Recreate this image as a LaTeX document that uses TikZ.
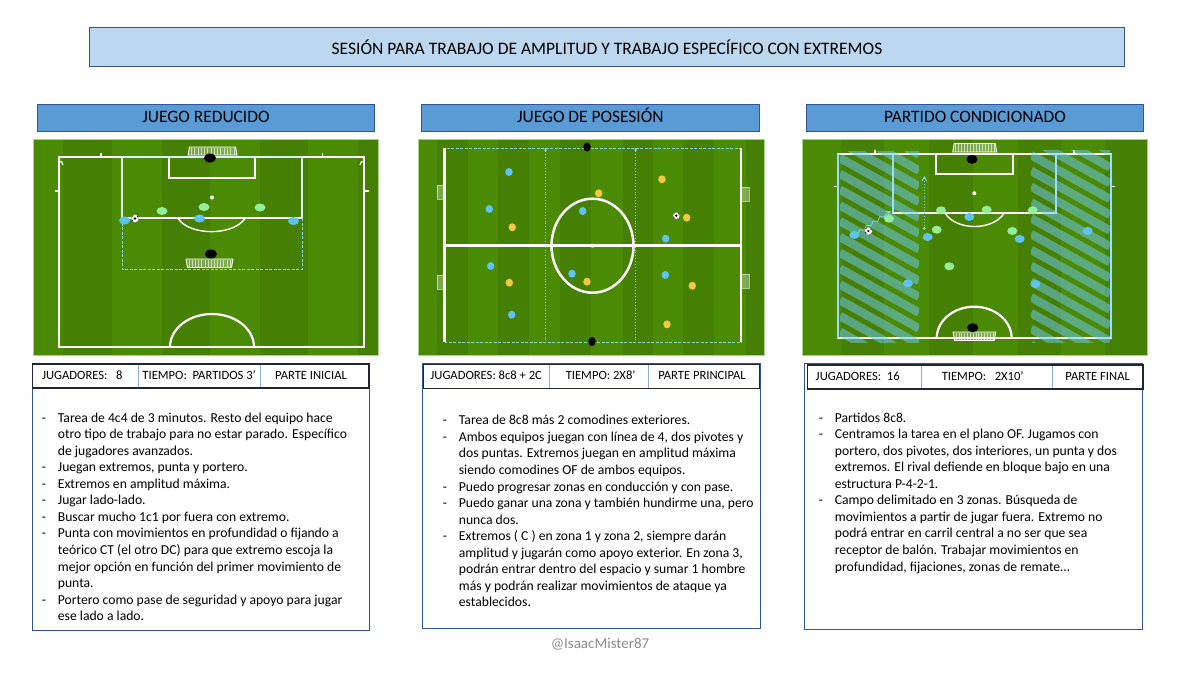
\documentclass[tikz,border=0pt]{standalone}
\usepackage{fontspec}
\setmainfont{Carlito}
\usetikzlibrary{positioning,arrows,shapes.geometric,decorations.pathmorphing}
\definecolor{barline}{HTML}{2F5597}
\definecolor{titlefill}{HTML}{BDD7EE}
\definecolor{headfill}{HTML}{5B9BD5}
\definecolor{rowline}{HTML}{1F2733}
\definecolor{celline}{HTML}{8FAADC}
\definecolor{grasslight}{HTML}{4B8A05}
\definecolor{grassdark}{HTML}{457F03}
\definecolor{grassedge}{HTML}{A9D18E}
\definecolor{zoneline}{HTML}{86D6DC}
\definecolor{hatchblue}{HTML}{6CC6E6}
\definecolor{teamblue}{HTML}{5CC3F2}
\definecolor{teamgreen}{HTML}{93EE9A}
\definecolor{teamyellow}{HTML}{F4C842}
\newcommand{\dashrow}{\makebox[16pt][l]{-}}
\newcommand{\controw}{\hspace*{16pt}}
% goal net: left, right, top, bottom, inset at top, inset at bottom
\newcommand{\goalnet}[6]{
	\fill[white,opacity=.3] ({#1+#5},#3) -- ({#2-#5},#3) -- ({#2-#6},#4) -- ({#1+#6},#4) -- cycle;
	\foreach \t in {1,...,14} \draw[white,opacity=.6,line width=.4pt] ({#1+(#2-#1)*\t/15},#3+.5) -- ({#1+(#2-#1)*\t/15},#4-.5);
	\draw[white,line width=.9pt] ({#1+#5},#3) -- ({#2-#5},#3) -- ({#2-#6},#4) -- ({#1+#6},#4) -- cycle;
}
\newcommand{\sidenet}[4]{
	\fill[white,opacity=.3] (#1,#3) rectangle (#2,#4);
	\draw[white,opacity=.55,line width=.6pt] (#1,#3) rectangle (#2,#4);
}
\tikzset{
	titlebar/.style={draw=barline,fill=titlefill,line width=.8pt,minimum width=1035.5pt,minimum height=39pt,inner sep=0pt,font=\fontsize{17.5}{20}\selectfont},
	headbar/.style={draw=barline,fill=headfill,line width=.8pt,minimum width=337.5pt,minimum height=27pt,inner sep=0pt,text height=12pt,text depth=3.5pt,font=\fontsize{17.4}{20}\selectfont},
	textbox/.style={draw=barline,fill=white,line width=.8pt,anchor=north west,inner sep=0pt},
	cellbox/.style={draw=celline,line width=.8pt,minimum height=24pt,inner sep=0pt,outer sep=0pt,anchor=west,text height=9pt,text depth=3pt,font=\fontsize{12.6}{15}\selectfont},
	rowbox/.style={draw=rowline,line width=1.3pt},
	bodytext/.style={anchor=north west,align=left,inner sep=0pt,font=\fontsize{13.65}{16.55}\selectfont},
	pitchline/.style={white,line width=2.2pt},
	zonedash/.style={zoneline,line width=.9pt,dash pattern=on 3pt off 1.5pt},
	player/.style={ellipse,inner sep=0pt,minimum width=#1,minimum height=8pt},
	bluep/.style={player=#1,fill=teamblue},
	greenp/.style={player=#1,fill=teamgreen},
	yellowp/.style={player=#1,fill=teamyellow},
	keeper/.style={ellipse,fill=black,inner sep=0pt,minimum width=#1,minimum height=9pt},
	spotdot/.style={circle,fill=white,inner sep=0pt,minimum size=4pt},
	ball/.style={circle,fill=white,draw=black!60,line width=.3pt,inner sep=0pt,minimum size=8pt,
		path picture={\fill[black] (path picture bounding box.center) circle (1.3pt);
			\fill[black] ([shift={(2.8pt,2pt)}]path picture bounding box.center) circle (1pt);
			\fill[black] ([shift={(-2.8pt,-2pt)}]path picture bounding box.center) circle (1pt);
			\fill[black] ([shift={(-2.4pt,2.6pt)}]path picture bounding box.center) circle (.8pt);}},
	hatchband/.style={hatchblue,opacity=.55,line width=8.5pt}
}

\begin{document}
\begin{tikzpicture}[x=1pt,y=-1pt]
	\useasboundingbox (0,0) rectangle (1200,675);
	\fill[white] (0,0) rectangle (1200,675);

	\node[titlebar] (title) at (607,47) {SESIÓN PARA TRABAJO DE AMPLITUD Y TRABAJO ESPECÍFICO CON EXTREMOS};
	\node[headbar] (head1) at (206,118.3) {JUEGO REDUCIDO};
	\node[headbar] (head2) at (590.3,118.3) {JUEGO DE POSESIÓN};
	\node[headbar] (head3) at (975,118.3) {PARTIDO CONDICIONADO};

	% first pitch
	\fill[grasslight] (33,139) rectangle (378.5,355);
	\foreach \bx/\bw in {63/49,162/48,260/48,358/20.5}
		\fill[grassdark] (\bx,139) rectangle ++(\bw,216);
	\draw[grassedge,line width=.6pt] (33,139) rectangle (378.5,355);
	\goalnet{188}{237}{147}{155}{1.5}{0}
	\goalnet{186}{233}{259}{267.5}{0}{1.5}
	\draw[pitchline] (59,157) rectangle (364,347);
	\draw[pitchline] (169,157) rectangle (255,178);
	\draw[pitchline] (122,218) -- (302,218);
	\draw[pitchline,line width=1.4pt] (178,218.5) .. controls (190,236) and (233,236) .. (245,218.5);
	\draw[pitchline] (170,347) arc[start angle=180,end angle=360,x radius=42,y radius=33];
	\draw[pitchline,line width=1.2pt] (59,161) arc[start angle=-90,end angle=0,radius=4] (364,161) arc[start angle=270,end angle=180,radius=4];
	\draw[pitchline,line width=1.4pt] (101,153) -- (101,157) (322.7,153) -- (322.7,157) (55,191) -- (59,191) (364,191) -- (369,191);
	\draw[white!70!zoneline,line width=2pt] (122,157) -- (302,157) (122,157) -- (122,218) (302,157) -- (302,218);
	\draw[zonedash] (122,218) -- (122,269) -- (302,269) -- (302,218);
	\node[spotdot] (spot1) at (212,197.5) {};
	\node[spotdot,minimum size=2.5pt] (mid1) at (212,347) {};
	\node[keeper=12pt] (keep1a) at (210,158) {};
	\node[keeper=12pt] (keep1b) at (211,254) {};
	\foreach \px/\py [count=\i] in {162/211,204/207,260/207.5}
		\node[greenp=11pt] (green1\i) at (\px,\py) {};
	\node[ball] (ball1) at (135,218.5) {};
	\foreach \px/\py [count=\i] in {124.5/220.5,199.5/218.5,293.5/221}
		\node[bluep=11pt] (blue1\i) at (\px,\py) {};

	% second pitch
	\fill[grasslight] (418.5,139) rectangle (764,355);
	\foreach \bx/\bw in {436.7/31,498.3/31,560/31,623.3/30,683.3/31,745.7/18.3}
		\fill[grassdark] (\bx,139) rectangle ++(\bw,216);
	\draw[grassedge,line width=.6pt] (418.5,139) rectangle (764,355);
	\sidenet{437}{444}{185}{199}
	\sidenet{437}{444}{275}{289}
	\sidenet{741}{749}{187}{201}
	\sidenet{741}{749}{274}{288}
	\draw[zonedash] (445,148) rectangle (741,342.5);
	\draw[zoneline,line width=.9pt,dotted] (545.7,148) -- (545.7,342.5) (635.7,148) -- (635.7,342.5);
	\fill[zoneline] (544.7,148) rectangle ++(2,3) (634.7,148) rectangle ++(2,3);
	\draw[pitchline,line width=2.5pt] (444.7,148) -- (444.7,342) (741,148) -- (741,342);
	\draw[pitchline,line width=2.5pt] (444.7,245.7) -- (741,245.7);
	\draw[pitchline,line width=2.5pt] (592.5,245.7) ellipse[x radius=41,y radius=47];
	\node[spotdot] (mid2) at (592.5,245.7) {};
	\node[keeper=7.5pt] (keep2a) at (587,147) {};
	\node[keeper=7.5pt] (keep2b) at (592,341.5) {};
	\foreach \px/\py [count=\i] in {509/172,489.3/209,490.7/266,511.7/314.7,582.7/211,572/273.7,665.7/238.7,665.3/275}
		\node[bluep=7.5pt] (blue2\i) at (\px,\py) {};
	\foreach \px/\py [count=\i] in {598.7/193.3,662/179.3,686.7/217.7,512.3/227.3,509.3/282.7,587/281.7,692.3/285.7,667/324.3}
		\node[yellowp=7.5pt] (yellow2\i) at (\px,\py) {};
	\node[ball,minimum size=7pt] (ball2) at (676.3,215.7) {};

	% third pitch
	\fill[grasslight] (802.7,139) rectangle (1147.7,355);
	\foreach \bx/\bw in {841/43.3,929.3/43.4,1017.7/43.3,1105/42.7}
		\fill[grassdark] (\bx,139) rectangle ++(\bw,216);
	\draw[grassedge,line width=.6pt] (802.7,139) rectangle (1147.7,355);
	\goalnet{952.7}{996.7}{143.5}{152}{1.5}{0}
	\goalnet{953}{995.7}{332}{340.5}{0}{1.5}
	\draw[pitchline] (892.7,154) rectangle (1055.7,212.7);
	\draw[pitchline] (837.7,154) rectangle (1111,338.3);
	\draw[pitchline] (936,154) rectangle (1013.3,174);
	\draw[pitchline,line width=1.4pt] (945,213) .. controls (956,231) and (993,231) .. (1004.3,213);
	\draw[pitchline] (936.7,338.3) arc[start angle=180,end angle=360,x radius=37.5,y radius=31.6];
	\draw[pitchline,line width=1.4pt] (875,150) -- (875,154) (1074,150) -- (1074,154) (834,186.7) -- (838,186.7) (1111,186.7) -- (1115,186.7);
	\begin{scope}
		\clip (840,151.7) rectangle (919,342.7);
		\foreach \k in {-5,...,12}
			\draw[hatchband] (840,{158+\k*15.8}) -- (919,{158+\k*15.8+44});
	\end{scope}
	\begin{scope}
		\clip (1031,150) rectangle (1110,342);
		\foreach \k in {-5,...,12}
			\draw[hatchband] (1031,{155+\k*15.8}) -- (1110,{155+\k*15.8+44});
	\end{scope}
	\draw[white!60!cyan,line width=1.6pt] (837.7,154) -- (837.7,338.3) (1111,154) -- (1111,338.3) (892.7,154) -- (892.7,212.7) (1055.7,154) -- (1055.7,212.7);
	\node[spotdot] (spot3) at (974.3,193.3) {};
	\node[keeper=11pt] (keep3a) at (972,159.3) {};
	\node[keeper=11pt] (keep3b) at (972.7,327.7) {};
	\coordinate (runa) at (924.3,228.3);
	\coordinate (runb) at (924.3,176);
	\coordinate (drivea) at (858.3,232.5);
	\coordinate (driveb) at (891,211);
	\draw[zoneline,line width=.9pt,dotted,->,>=angle 60] (runa) -- (runb);
	\fill[zoneline] (runa) circle (1.6pt);
	\draw[zoneline,line width=.8pt,->,>=angle 60,decorate,decoration={snake,amplitude=1.3pt,segment length=8pt,post length=4pt}] (drivea) -- (driveb);
	\foreach \px/\py [count=\i] in {941/210.3,986.7/209.7,1032.7/210.3,889/218.7,936.7/229.7,1012.3/231,949.3/266.3}
		\node[greenp=10pt] (green3\i) at (\px,\py) {};
	\node[ball] (ball3) at (868.3,231) {};
	\foreach \px/\py [count=\i] in {854.3/235,927.7/237,969.3/217,1019.7/239,1087.7/231,908/283.3,1035.3/284}
		\node[bluep=10pt] (blue3\i) at (\px,\py) {};

	% first column
	\node[textbox,minimum width=337.3pt,minimum height=243pt] (box1) at (31.7,386.5) {};
	\node[cellbox,minimum width=106pt] (jug1) at (32.3,376) {JUGADORES:\ \ \ 8\hspace{6pt}\null};
	\node[cellbox,minimum width=121.7pt,right=0pt of jug1] (tie1) {TIEMPO:\ \ PARTIDOS 3’};
	\node[cellbox,minimum width=109pt,right=0pt of tie1] (par1) {PARTE INICIAL\hspace{7pt}\null};
	\draw[rowbox] (jug1.north west) rectangle (par1.south east);
	\node[bodytext] (list1) at (41.7,412.4) {%
		\dashrow Tarea de 4c4 de 3 minutos. Resto del equipo hace\\
		\controw otro tipo de trabajo para no estar parado. Específico\\
		\controw de jugadores avanzados.\\
		\dashrow Juegan extremos, punta y portero.\\
		\dashrow Extremos en amplitud máxima.\\
		\dashrow Jugar lado-lado.\\
		\dashrow Buscar mucho 1c1 por fuera con extremo.\\
		\dashrow Punta con movimientos en profundidad o fijando a\\
		\controw teórico CT (el otro DC) para que extremo escoja la\\
		\controw mejor opción en función del primer movimiento de\\
		\controw punta.\\
		\dashrow Portero como pase de seguridad y apoyo para jugar\\
		\controw ese lado a lado.};

	% second column
	\node[textbox,minimum width=337.5pt,minimum height=265.5pt] (box2) at (422,362.8) {};
	\node[cellbox,minimum width=125.7pt] (jug2) at (423.3,376.5) {JUGADORES: 8c8 + 2C};
	\node[cellbox,minimum width=99.3pt,right=0pt of jug2] (tie2) {\hspace*{4pt}TIEMPO: 2X8’};
	\node[cellbox,minimum width=111pt,right=0pt of tie2] (par2) {PARTE PRINCIPAL\hspace{3.6pt}\null};
	\draw[rowbox] (jug2.north west) rectangle (par2.south east);
	\node[bodytext] (list2) at (442.7,415.2) {%
		\dashrow Tarea de 8c8 más 2 comodines exteriores.\\
		\dashrow Ambos equipos juegan con línea de 4, dos pivotes y\\
		\controw dos puntas. Extremos juegan en amplitud máxima\\
		\controw siendo comodines OF de ambos equipos.\\
		\dashrow Puedo progresar zonas en conducción y con pase.\\
		\dashrow Puedo ganar una zona y también hundirme una, pero\\
		\controw nunca dos.\\
		\dashrow Extremos ( C ) en zona 1 y zona 2, siempre darán\\
		\controw amplitud y jugarán como apoyo exterior. En zona 3,\\
		\controw podrán entrar dentro del espacio y sumar 1 hombre\\
		\controw más y podrán realizar movimientos de ataque ya\\
		\controw establecidos.};
	\node[text=black!45,font=\fontsize{15}{18}\selectfont] (mark) at (600,644) {@IsaacMister87};

	% third column
	\node[textbox,minimum width=337.3pt,minimum height=266pt] (box3) at (804.3,363.2) {};
	\node[cellbox,minimum width=114pt] (jug3) at (807.7,377) {JUGADORES:\ \ 16\hspace{14pt}\null};
	\node[cellbox,minimum width=130.6pt,right=0pt of jug3] (tie3) {TIEMPO:\ \ \ 2X10’\hspace{8.6pt}\null};
	\node[cellbox,minimum width=90.7pt,right=0pt of tie3] (par3) {PARTE FINAL};
	\draw[rowbox] (jug3.north west) rectangle (par3.south east);
	\node[bodytext] (list3) at (818.7,412.4) {%
		\dashrow Partidos 8c8.\\
		\dashrow Centramos la tarea en el plano OF. Jugamos con\\
		\controw portero, dos pivotes, dos interiores, un punta y dos\\
		\controw extremos. El rival defiende en bloque bajo en una\\
		\controw estructura P-4-2-1.\\
		\dashrow Campo delimitado en 3 zonas. Búsqueda de\\
		\controw movimientos a partir de jugar fuera. Extremo no\\
		\controw podrá entrar en carril central a no ser que sea\\
		\controw receptor de balón. Trabajar movimientos en\\
		\controw profundidad, fijaciones, zonas de remate…};
\end{tikzpicture}
\end{document}
